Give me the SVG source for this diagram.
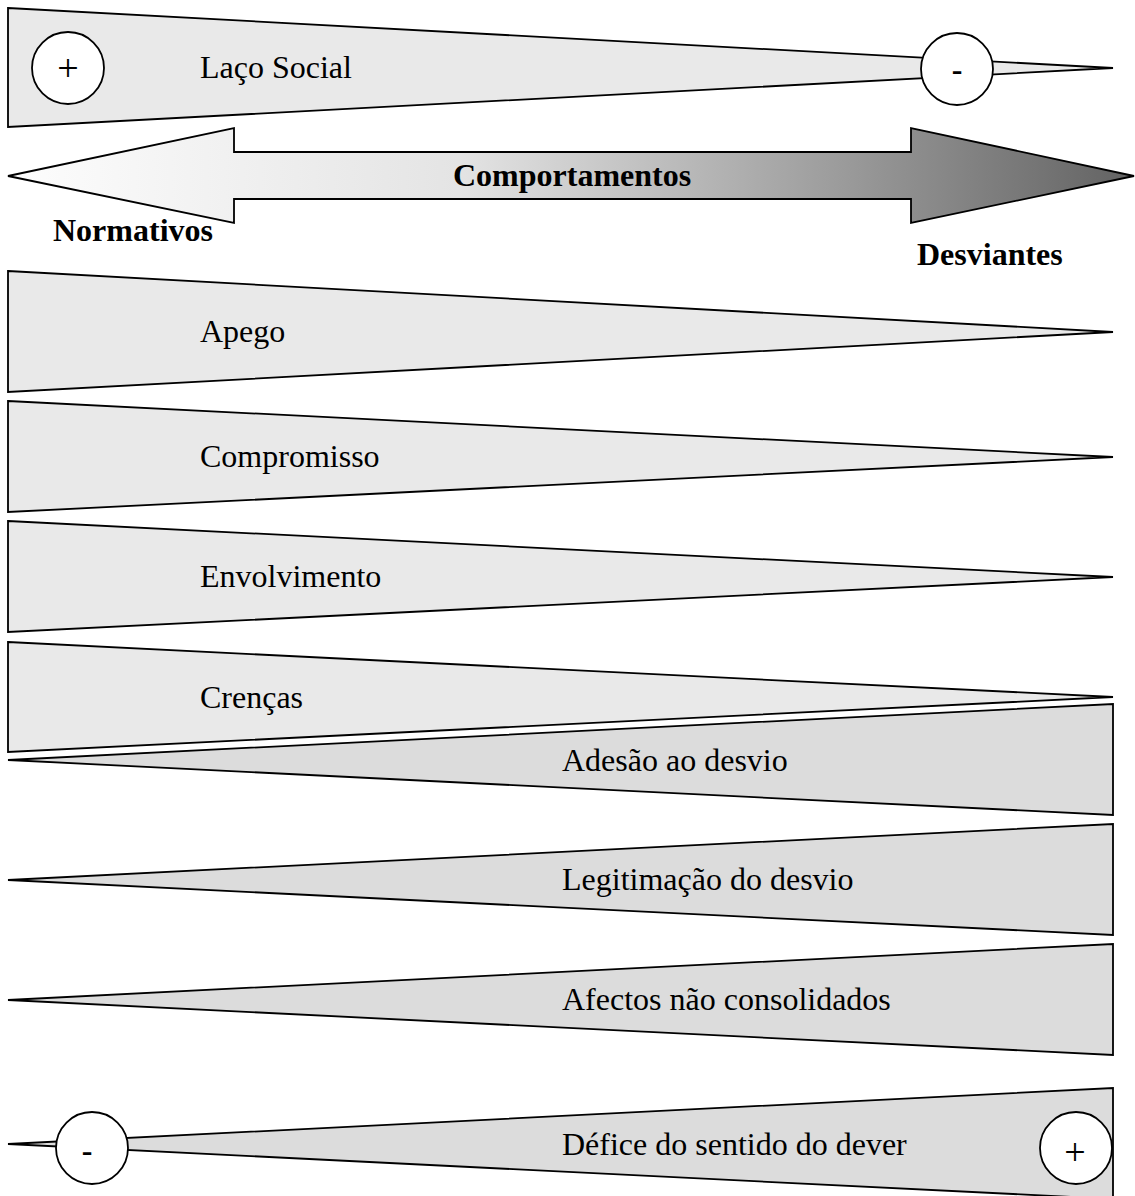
<svg xmlns="http://www.w3.org/2000/svg" width="1135" height="1196" viewBox="0 0 1135 1196">
<defs>
<linearGradient id="grad" x1="0" y1="0" x2="1" y2="0">
<stop offset="0" stop-color="#fdfdfd"/>
<stop offset="0.4" stop-color="#e4e4e4"/>
<stop offset="0.75" stop-color="#999999"/>
<stop offset="1" stop-color="#626262"/>
</linearGradient>
</defs>
<style>
.wl{fill:#e9e9e9;stroke:#000;stroke-width:1.8;stroke-linejoin:miter}
.wd{fill:#dcdcdc;stroke:#000;stroke-width:1.8}
.c{fill:#fff;stroke:#000;stroke-width:1.8}
text{font-family:'Liberation Serif',serif;fill:#000}
.t{font-size:32px}
.b{font-size:32px;font-weight:bold}
.p{font-size:38px;text-anchor:middle}
.m{font-size:32px;font-weight:bold;text-anchor:middle}
</style>
<g id="laco-social">
<polygon class="wl" points="8,8 1113,68 8,127"/>
<circle class="c" cx="68" cy="68" r="36"/>
<text class="p" x="68" y="81">+</text>
<circle class="c" cx="957" cy="69" r="36"/>
<text class="m" x="957" y="80">-</text>
<text class="t" x="200" y="78">Laço Social</text>
</g>
<g id="comportamentos">
<polygon points="8,176 234,128 234,152 911,152 911,128 1134,176 911,223 911,199 234,199 234,223" fill="url(#grad)" stroke="#000" stroke-width="1.8"/>
<text class="b" x="453" y="186">Comportamentos</text>
</g>
<g id="normativos"><text class="b" x="53" y="241">Normativos</text></g>
<g id="desviantes"><text class="b" x="917" y="265">Desviantes</text></g>
<g id="apego">
<polygon class="wl" points="8,271 1113,332 8,392"/>
<text class="t" x="200" y="342">Apego</text>
</g>
<g id="compromisso">
<polygon class="wl" points="8,401 1113,457 8,512"/>
<text class="t" x="200" y="467">Compromisso</text>
</g>
<g id="envolvimento">
<polygon class="wl" points="8,521 1113,577 8,632"/>
<text class="t" x="200" y="587">Envolvimento</text>
</g>
<g id="crencas">
<polygon class="wl" points="8,642 1113,697 8,752"/>
<text class="t" x="200" y="708">Crenças</text>
</g>
<g id="adesao">
<polygon class="wd" points="8,760 1113,704 1113,815"/>
<text class="t" x="562" y="771">Adesão ao desvio</text>
</g>
<g id="legitimacao">
<polygon class="wd" points="8,880 1113,824 1113,935"/>
<text class="t" x="562" y="890">Legitimação do desvio</text>
</g>
<g id="afectos">
<polygon class="wd" points="8,1000 1113,944 1113,1055"/>
<text class="t" x="562" y="1010">Afectos não consolidados</text>
</g>
<g id="defice">
<polygon class="wd" points="8,1144 1113,1088 1113,1199"/>
<circle class="c" cx="92" cy="1148" r="36"/>
<text class="m" x="87" y="1161">-</text>
<circle class="c" cx="1076" cy="1148" r="36"/>
<text class="p" x="1075" y="1165">+</text>
<text class="t" x="562" y="1155">Défice do sentido do dever</text>
</g>
<g id="connectors"/>
</svg>
